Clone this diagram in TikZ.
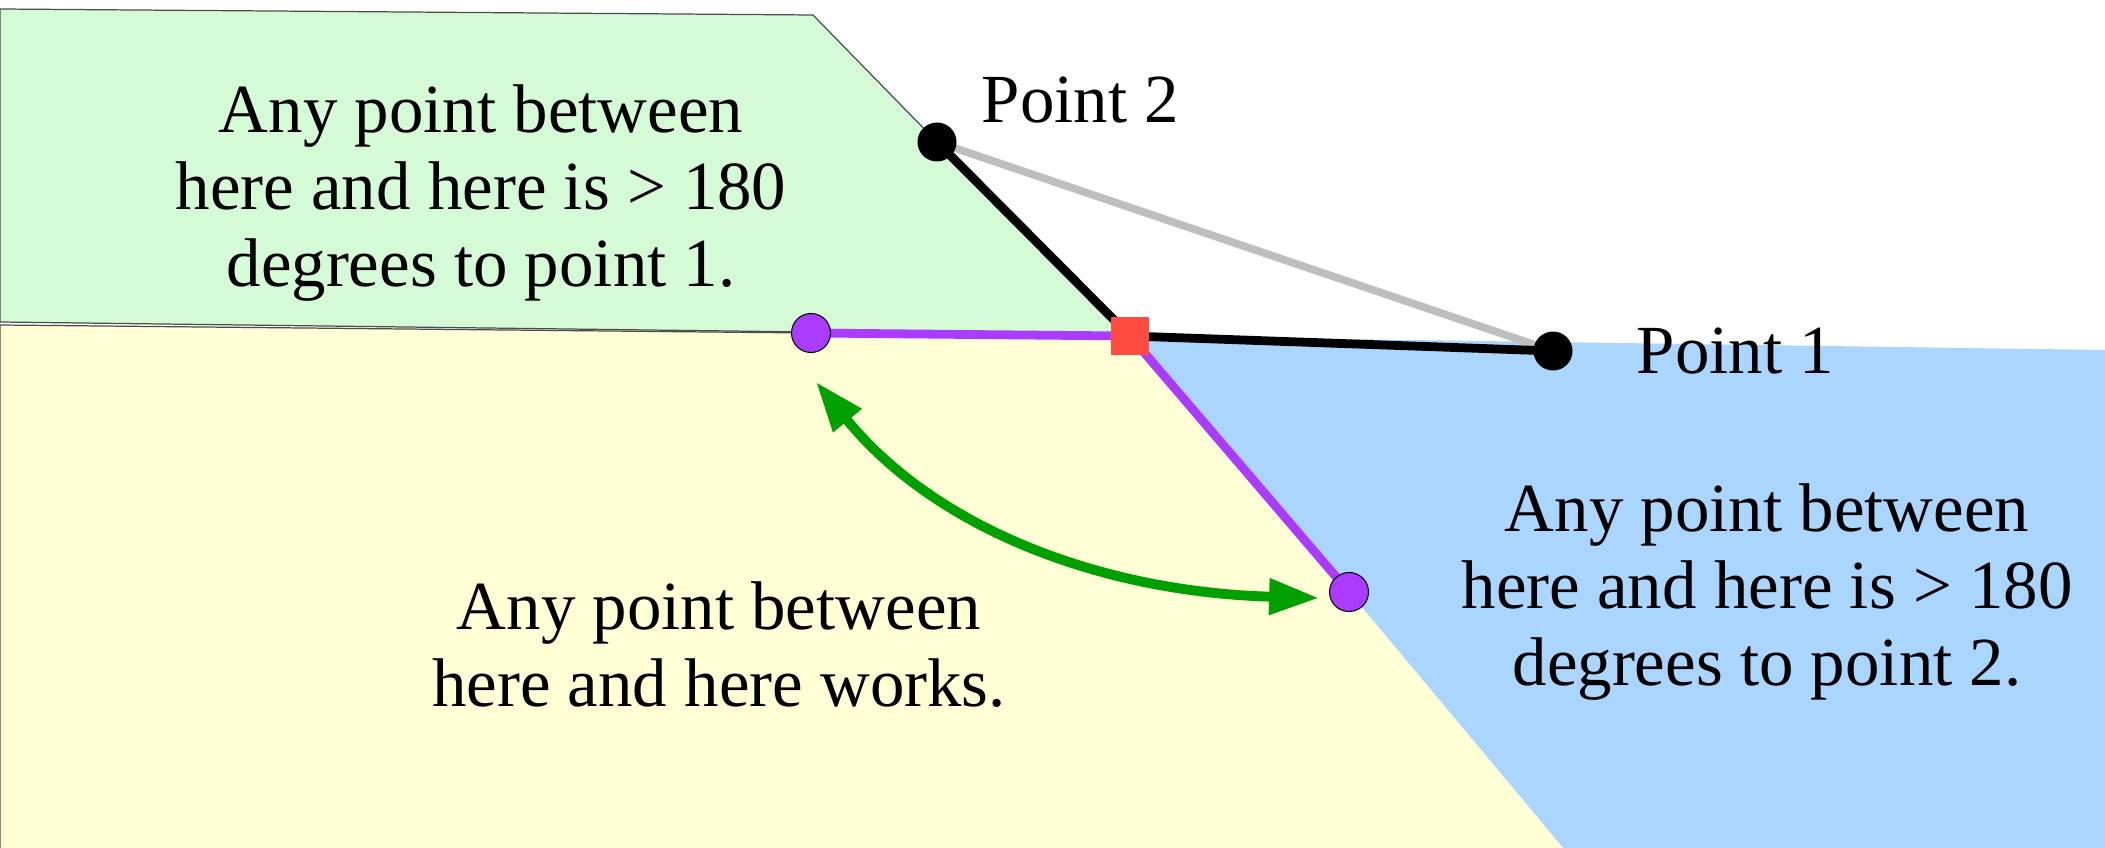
\documentclass[tikz,border=0pt]{standalone}
\usepackage{fontspec}
\setmainfont{Liberation Serif}
\usetikzlibrary{arrows.meta}
\definecolor{greenfill}{HTML}{D4FBD6}
\definecolor{yellowfill}{HTML}{FFFED5}
\definecolor{bluefill}{HTML}{A9D5FF}
\definecolor{purp}{HTML}{AA3BFF}
\definecolor{redsq}{HTML}{FF4B40}
\definecolor{arrgreen}{HTML}{00A000}
\definecolor{lgray}{HTML}{BEBEBE}
\pgfdeclarelayer{bg}
\pgfsetlayers{bg,main}
\begin{document}
\begin{tikzpicture}[x=0.1mm,y=-0.1mm,
  dot/.style={circle,fill=black,inner sep=0pt,minimum size=3.9mm},
  pdot/.style={circle,fill=purp,draw=black,line width=0.3pt,inner sep=0pt,minimum size=3.9mm},
  sqnode/.style={rectangle,fill=redsq,inner sep=0pt,minimum size=3.8mm},
  lbl/.style={font=\fontsize{19.6pt}{21.8pt}\selectfont,align=center,inner sep=0pt},
  outline/.style={draw=black!70,line width=0.35pt},
  blackline/.style={draw=black,line width=2.5pt},
  grayline/.style={draw=lgray,line width=2.2pt},
  purpline/.style={draw=purp,line width=2.5pt},
  greenarrow/.style={draw=arrgreen,line width=2.8pt,{Triangle[length=14.2pt,width=9.8pt]}-{Triangle[length=14.2pt,width=9.8pt]}}
]
\useasboundingbox (0,0) rectangle (2105,848);
% nodes
\node[dot] (p2) at (937,142) {};
\node[dot] (p1) at (1553,351) {};
\node[sqnode] (x) at (1130,336) {};
\node[pdot] (c1) at (811,333) {};
\node[pdot] (c2) at (1349,592) {};
\coordinate (a1) at (816,382);
\coordinate (a2) at (1319,598);
\begin{pgfonlayer}{bg}
  % regions
  \fill[bluefill] (1130,336) -- (2105,350) -- (2105,848) -- (1563,848) -- (1349,592) -- cycle;
  \fill[yellowfill] (0,325) -- (811,333) -- (1130,338) -- (1349,592) -- (1563,848) -- (0,848) -- cycle;
  \draw[outline] (0,848) -- (0,325) -- (811,333);
  \fill[greenfill] (0,9) -- (813,15) -- (937,142) -- (1130,336) -- (811,332) -- (0,322) -- cycle;
  \draw[outline] (811,332) -- (0,322) -- (0,9) -- (813,15) -- (937,142);
  % connectors
  \draw[grayline] (p2.center) -- (p1.center);
  \draw[blackline] (p2.center) -- (x.center) -- (p1.center);
  \draw[purpline] (c1.center) -- (x.center) -- (c2.center);
\end{pgfonlayer}
\draw[greenarrow] (a1) .. controls (935,528) and (1100,592) .. (a2);
% labels
\node[lbl,anchor=base west] (l2) at (981,123) {Point 2};
\node[lbl,anchor=base west] (l1) at (1636,373) {Point 1};
\node[lbl,anchor=base] (tg) at (481,286) {Any point between\\here and here is > 180\\degrees to point 1.};
\node[lbl,anchor=base] (tb) at (1767,685) {Any point between\\here and here is > 180\\degrees to point 2.};
\node[lbl,anchor=base] (ty) at (719,706) {Any point between\\here and here works.};
\end{tikzpicture}
\end{document}
